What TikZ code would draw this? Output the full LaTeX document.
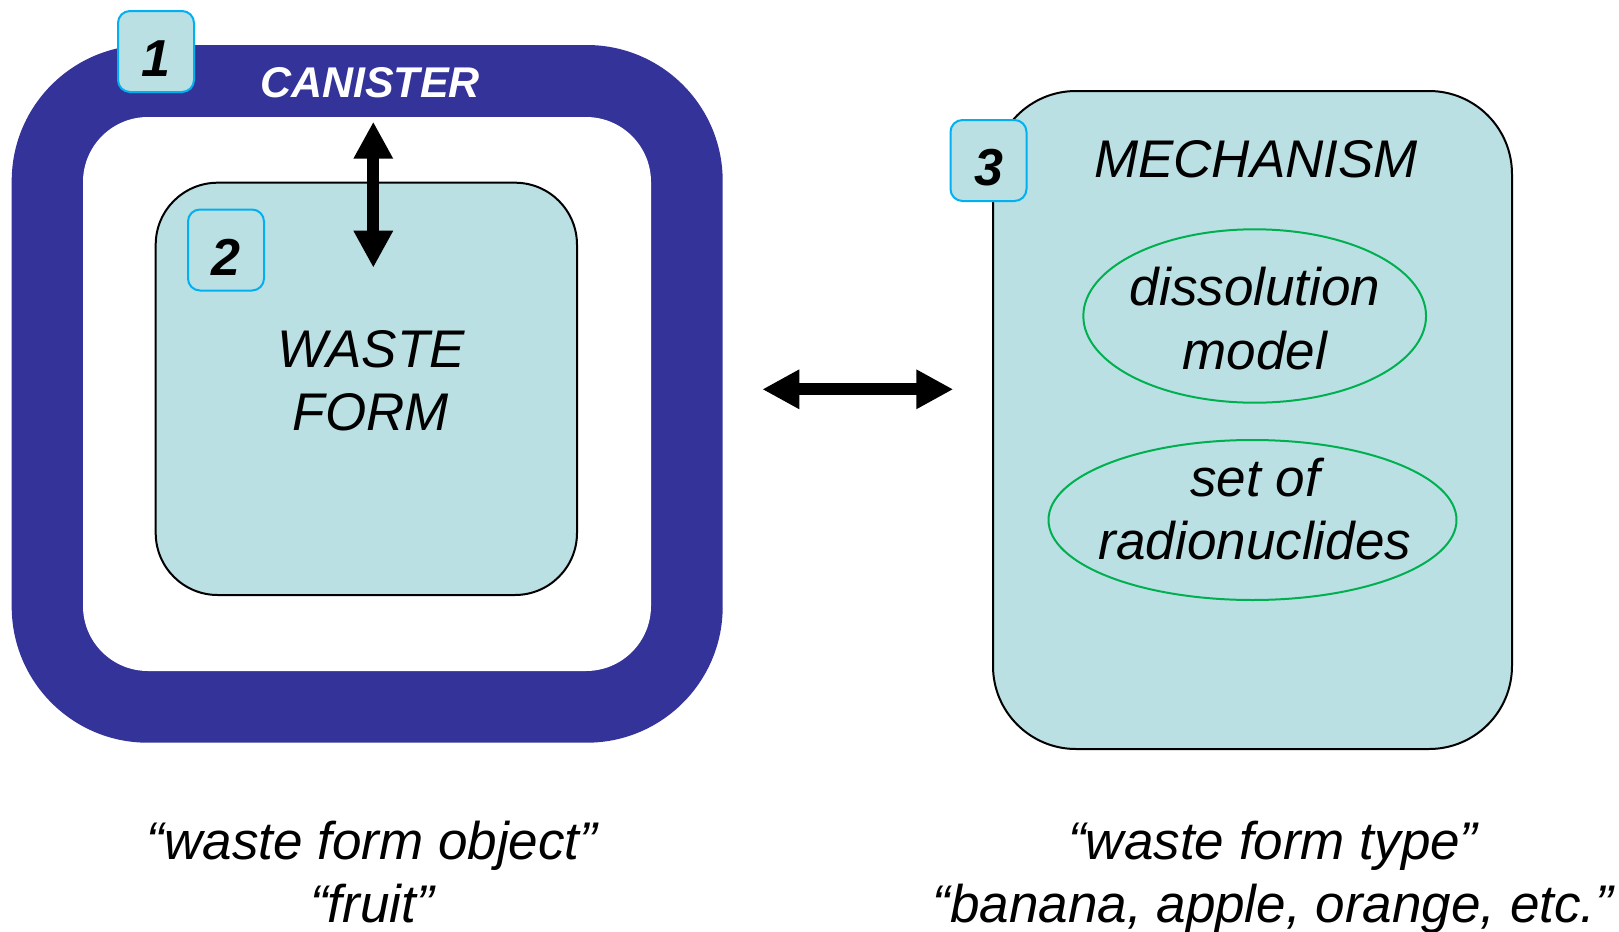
\documentclass[tikz,border=0pt]{standalone}
\usepackage{fontspec}
\setmainfont{Liberation Sans}
\usetikzlibrary{arrows.meta,shapes.geometric}
\definecolor{canblue}{RGB}{51,51,153}
\definecolor{tealfill}{RGB}{186,224,227}
\definecolor{badgeline}{RGB}{0,176,240}
\definecolor{ellgreen}{RGB}{0,176,80}
\newcommand\bigit{\fontsize{26.5}{31.8}\selectfont\itshape}
\newcommand\digitfont{\fontsize{26}{31}\selectfont\bfseries\itshape}
\newcommand\canfont{\fontsize{21.5}{26}\selectfont\bfseries\itshape}
\newcommand\twol[2]{\begin{tabular}[t]{@{}c@{}}#1\\#2\end{tabular}}
\begin{document}
\begin{tikzpicture}[x=0.5pt,y=-0.5pt,
  bigbox/.style={draw=black, line width=1pt, fill=tealfill, inner sep=0pt},
  badge/.style={draw=badgeline, line width=1pt, fill=tealfill, rounded corners=6pt,
    inner sep=0pt, minimum width=38pt, minimum height=40.5pt,
    text height=25pt, text depth=0pt, font=\digitfont},
  ell/.style={draw=ellgreen, line width=1pt, ellipse, inner sep=0pt},
  txt/.style={anchor=base, inner sep=0pt, font=\bigit},
  dbl/.style={line width=6pt, {Triangle[length=18.5pt,width=18.5pt]}-{Triangle[length=18.5pt,width=18.5pt]}}]
\fill[white] (0,0) rectangle (1619,932);
\useasboundingbox (0,0) rectangle (1619,932);
% canister
\node[fill=canblue, rounded corners=68pt, inner sep=0pt,
  minimum width=355.5pt, minimum height=348.85pt] (can) at (367.2,393.85) {};
\node[fill=white, rounded corners=32.5pt, inner sep=0pt,
  minimum width=284pt, minimum height=277pt] (caninner) at (367,394) {};
\node[anchor=base, inner sep=0pt, text=white, font=\canfont] (cantxt) at (370,97) {CANISTER};
\node[badge] (b1) at (156,51.5) {1};
% waste form
\node[bigbox, rounded corners=31pt, minimum width=210.65pt, minimum height=206.15pt] (wf) at (366.35,388.85) {};
\node[badge] (b2) at (226,250) {2};
\node[txt] (wftxt) at (371,367) {\twol{WASTE}{FORM}};
\coordinate (vtop) at (373.3,121.7);
\coordinate (vbot) at (373.3,267.7);
\draw[dbl] (vtop) -- (vbot);
% middle arrow
\coordinate (hl) at (762.3,389.3);
\coordinate (hr) at (953.3,389.3);
\draw[dbl] (hl) -- (hr);
% mechanism
\node[bigbox, rounded corners=41.5pt, minimum width=259.5pt, minimum height=329pt] (mech) at (1252.5,420) {};
\node[badge] (b3) at (988.5,160.5) {3};
\node[txt] (mechtxt) at (1256,177) {MECHANISM};
\node[ell, minimum width=171.35pt, minimum height=86.7pt] (dm) at (1254.7,316) {};
\node[txt] (dmtxt) at (1255,305.5) {\twol{dissolution}{model}};
\node[ell, minimum width=204pt, minimum height=80pt] (rn) at (1252.5,520) {};
\node[txt] (rntxt) at (1255,496) {\twol{set of}{radionuclides}};
% captions
\node[txt] (capl) at (372,859) {\twol{“waste form object”}{“fruit”}};
\node[txt] (capr) at (1273,859) {\twol{“waste form type”}{“banana, apple, orange, etc.”}};
\end{tikzpicture}
\end{document}
